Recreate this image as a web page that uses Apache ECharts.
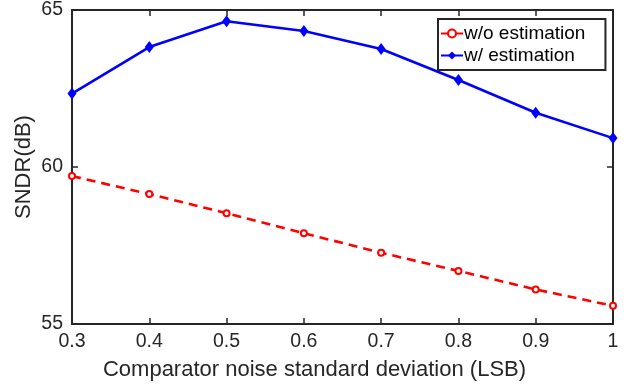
<!DOCTYPE html>
<html><head><meta charset="utf-8">
<script src="https://cdn.jsdelivr.net/npm/echarts@6/dist/echarts.min.js"></script>
<style>html,body{margin:0;padding:0;background:#fff}#c{width:636px;height:385px}</style>
</head><body><div id="c"></div>
<script>
var categories = ['0.3','0.4','0.5','0.6','0.7','0.8','0.9','1'];
var withoutEst = [59.71, 59.14, 58.53, 57.89, 57.27, 56.69, 56.10, 55.58];
var withEst = [62.34, 63.82, 64.64, 64.33, 63.76, 62.77, 61.73, 60.92];
var yTicks = [55, 60, 65];

var font = 'Liberation Sans, Arial, Helvetica, sans-serif';
var ink = '#262626';
var chart = echarts.init(document.getElementById('c'));
chart.setOption({
  animation: false,
  textStyle: {fontFamily: font},
  grid: {left: 72, right: 23, top: 10, bottom: 61, containLabel: false, outerBoundsMode: 'none'},
  legend: {
    orient: 'vertical', left: 438, top: 19, width: 166,
    padding: [5, 20, 5, 2], itemGap: 3,
    borderColor: ink, borderWidth: 2, backgroundColor: '#fff',
    itemWidth: 22, itemHeight: 10,
    textStyle: {fontFamily: font, fontSize: 19, color: '#000', padding: [0, 0, 0, -4]},
    data: ['w/o estimation', 'w/ estimation']
  },
  xAxis: [{
    type: 'category', data: categories, boundaryGap: false,
    name: 'Comparator noise standard deviation (LSB)', nameLocation: 'middle', nameGap: 35,
    nameTextStyle: {fontSize: 22, color: ink, fontFamily: font, padding: [0, 56, 0, 0]},
    axisLine: {lineStyle: {color: ink, width: 2}},
    axisTick: {inside: true, length: 6, lineStyle: {color: ink, width: 1.5}},
    axisLabel: {fontSize: 19.5, color: ink, margin: 8, fontFamily: font},
    splitLine: {show: false}
  }, {
    type: 'category', data: categories, boundaryGap: false, position: 'top',
    axisLine: {lineStyle: {color: ink, width: 2}},
    axisTick: {inside: true, length: 6, lineStyle: {color: ink, width: 1.5}},
    axisLabel: {show: false}, splitLine: {show: false}
  }],
  yAxis: [{
    type: 'value', min: yTicks[0], max: yTicks[yTicks.length - 1], interval: 5,
    name: 'SNDR(dB)', nameLocation: 'middle', nameGap: 37, nameMoveOverlap: false,
    nameTextStyle: {fontSize: 22, color: ink, fontFamily: font},
    axisLine: {show: true, lineStyle: {color: ink, width: 2}},
    axisTick: {show: true, inside: true, length: 6, lineStyle: {color: ink, width: 1.5}},
    axisLabel: {fontSize: 19.5, color: ink, margin: 9, fontFamily: font},
    splitLine: {show: false}
  }, {
    type: 'value', min: yTicks[0], max: yTicks[yTicks.length - 1], interval: 5, position: 'right',
    axisLine: {show: true, lineStyle: {color: ink, width: 2}},
    axisTick: {show: true, inside: true, length: 6, lineStyle: {color: ink, width: 1.5}},
    axisLabel: {show: false}, splitLine: {show: false}
  }],
  series: [{
    name: 'w/o estimation', type: 'line', data: withoutEst,
    symbol: 'emptyCircle', symbolSize: 6,
    lineStyle: {color: '#ff0000', width: 2.6, type: [9, 6]},
    itemStyle: {color: '#ff0000', borderColor: '#ff0000', borderWidth: 2}
  }, {
    name: 'w/ estimation', type: 'line', data: withEst,
    symbol: 'diamond', symbolSize: [9, 12],
    lineStyle: {color: '#0000ff', width: 2.6},
    itemStyle: {color: '#0000ff'}
  }]
});
</script></body></html>
